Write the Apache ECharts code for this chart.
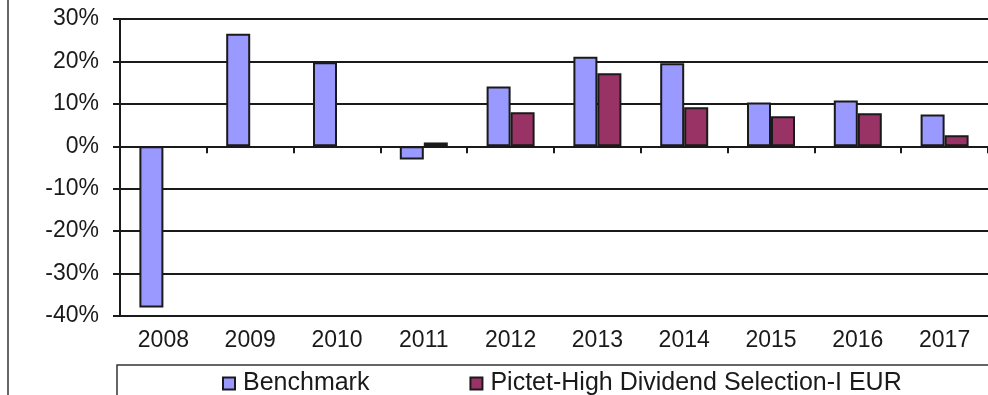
<!DOCTYPE html>
<html>
<head>
<meta charset="utf-8">
<script src="https://cdn.jsdelivr.net/npm/echarts@6/dist/echarts.min.js"></script>
<style>html,body{margin:0;padding:0;background:#fff;}#c{width:988px;height:395px;}</style>
</head>
<body>
<div id="c"></div>
<script>
var years = ['2008','2009','2010','2011','2012','2013','2014','2015','2016','2017'];
var benchmark = [-38.0, 26.5, 19.8, -3.1, 14.1, 21.1, 19.6, 10.3, 10.8, 7.5];
var pictet = [null, null, null, 0.9, 8.0, 17.2, 9.2, 7.1, 7.8, 2.6];
var seriesNames = ['Benchmark', 'Pictet-High Dividend Selection-I EUR'];
var yMin = -40, yMax = 30, yStep = 10;

var chart = echarts.init(document.getElementById('c'));
var font = 'Liberation Sans, Arial, sans-serif';
var ink = '#1a1a1a';
chart.setOption({
  animation: false,
  backgroundColor: '#fff',
  textStyle: { fontFamily: font },
  grid: { left: 120, top: 19, bottom: 79, right: -7, containLabel: false },
  xAxis: [{
    type: 'category', data: years, position: 'bottom',
    axisLine: { show: false, onZero: false },
    axisTick: { show: false },
    axisLabel: { fontSize: 23, color: ink, margin: 13, fontFamily: font }
  }, {
    type: 'category', data: years, position: 'bottom',
    axisLine: { show: true, onZero: true, lineStyle: { color: ink, width: 2 } },
    axisTick: { show: true, length: 7, alignWithLabel: false, lineStyle: { color: ink, width: 2 } },
    axisLabel: { show: false }
  }],
  yAxis: {
    type: 'value', min: yMin, max: yMax, interval: yStep,
    axisLine: { show: true, lineStyle: { color: ink, width: 2 } },
    axisTick: { show: true, length: 7, lineStyle: { color: ink, width: 2 } },
    axisLabel: { formatter: '{value}%', fontSize: 23, color: ink, margin: 21, fontFamily: font },
    splitLine: { show: true, lineStyle: { color: ink, width: 2 } }
  },
  legend: {
    left: 217, top: 366,
    icon: 'rect', itemWidth: 12, itemHeight: 12, itemGap: 100,
    textStyle: { fontSize: 25, color: ink, fontFamily: font, padding: [0, 0, 0, 3] },
    data: seriesNames
  },
  graphic: [
    { type: 'rect', shape: { x: 117, y: 365, width: 900, height: 60 }, style: { fill: 'none', stroke: '#333', lineWidth: 1.5 }, z: -1 },
    { type: 'line', shape: { x1: 8, y1: 0, x2: 8, y2: 395 }, style: { stroke: '#333', lineWidth: 1.5 } }
  ],
  series: [{
    name: seriesNames[0], type: 'bar', data: benchmark, barWidth: 24, barGap: '0%',
    itemStyle: { color: '#9999FF', borderColor: ink, borderWidth: 2 }
  }, {
    name: seriesNames[1], type: 'bar', data: pictet, barWidth: 24, barGap: '0%',
    itemStyle: { color: '#993366', borderColor: ink, borderWidth: 2 }
  }]
});
</script>
</body>
</html>
